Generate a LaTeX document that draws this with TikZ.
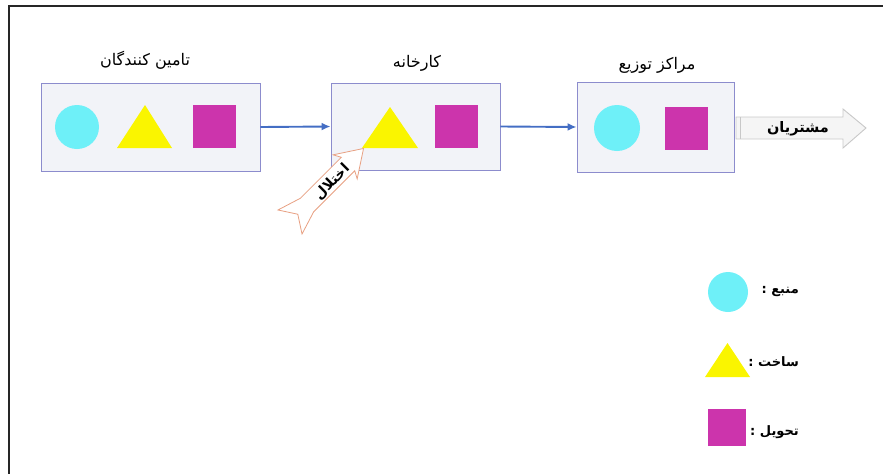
\documentclass[tikz,border=0pt]{standalone}
\usepackage{fontspec}
\usetikzlibrary{arrows.meta}
\TeXXeTstate=1
\newfontfamily\fa[Script=Arabic]{DejaVu Sans}
\definecolor{cyanc}{RGB}{110,240,248}
\definecolor{yelc}{RGB}{250,245,0}
\definecolor{magc}{RGB}{204,52,172}
\definecolor{boxc}{RGB}{140,140,205}
\definecolor{boxf}{RGB}{242,243,248}
\definecolor{arrc}{RGB}{68,110,196}
\definecolor{disc}{RGB}{232,160,130}
\definecolor{custc}{RGB}{200,200,200}
\tikzset{
  stage/.style={draw=boxc, line width=0.9pt, fill=boxf, inner sep=0pt},
  res/.style={circle, fill=cyanc, inner sep=0pt, minimum size=#1},
  deliv/.style={rectangle, fill=magc, inner sep=0pt, minimum width=43pt, minimum height=43pt},
  flow/.style={draw=arrc, line width=1.9pt, -{Latex[length=9pt,width=8pt]}},
  title/.style={font=\fa\fontsize{16}{18}\selectfont, inner sep=0pt},
  btitle/.style={font=\fa\bfseries\fontsize{#1}{16}\selectfont, inner sep=0pt},
}
\begin{document}
\begin{tikzpicture}[x=1pt,y=-1pt]
\useasboundingbox (0,0) rectangle (883,474);
% frame
\draw[line width=1.6pt, black!85] (883,6) -- (9,6) -- (9,474);

% boxes
\node[stage, minimum width=219pt, minimum height=88pt] (sup) at (150.5,127) {};
\node[stage, minimum width=169pt, minimum height=87pt] (fac) at (415.5,126.5) {};
\node[stage, minimum width=157pt, minimum height=90pt] (dist) at (655.5,127) {};

% titles
\node[title] (tsup) at (145,60) {\beginR تامین کنندگان\endR};
\node[title] (tfac) at (417,63) {\beginR کارخانه\endR};
\node[title] (tdist) at (657,65) {\beginR مراکز توزیع\endR};

% supplier contents
\node[res=44pt] (c1) at (77,127) {};
\fill[yelc] (117,148) -- (145,105) -- (172,148) -- cycle;
\node[deliv] (s1) at (214.5,126.5) {};

% factory contents
\fill[yelc] (362,148) -- (390,107) -- (418,148) -- cycle;
\node[deliv] (s2) at (456.5,126.5) {};

% distribution contents
\node[res=46pt] (c3) at (617,128) {};
\node[deliv] (s3) at (686.5,128) {};

% flows
\draw[flow] (sup.east) -- (fac.west);
\draw[flow] (fac.east) -- (dist.west);

% customers arrow
\draw[custc, fill=white!96!black, line width=0.9pt]
  (736,117) -- (843,117) -- (843,109) -- (866,128) -- (843,148) -- (843,139) -- (736,139) -- cycle;
\draw[custc, line width=0.7pt] (740,117) -- (740,139);
\node[btitle=14.5] (cust) at (798,129) {\beginR مشتریان\endR};

% disruption arrow (rotated notched arrow)
\begin{scope}[shift={(290,222)}, rotate=45]
  \draw[disc, fill=white, line width=0.8pt]
    (0,-17) -- (24,-9.5) -- (82,-9.5) -- (78,-17) -- (104,0) -- (78,17) -- (82,9.5) -- (24,9.5) -- (0,17) -- (11,0) -- cycle;
\end{scope}
\node[btitle=14, rotate=45] (dis) at (332,182) {\beginR اختلال\endR};

% legend
\node[res=40pt] (lc) at (728,292) {};
\fill[yelc] (705,377) -- (727.5,343) -- (750,377) -- cycle;
\node[deliv, minimum width=38pt, minimum height=37pt] (ls) at (727,427.5) {};
\node[btitle=13, anchor=east] (l1) at (799,292) {\beginR منبع :\endR};
\node[btitle=13, anchor=east] (l2) at (799,362) {\beginR ساخت :\endR};
\node[btitle=13, anchor=east] (l3) at (799,432) {\beginR تحویل :\endR};
\end{tikzpicture}
\end{document}
